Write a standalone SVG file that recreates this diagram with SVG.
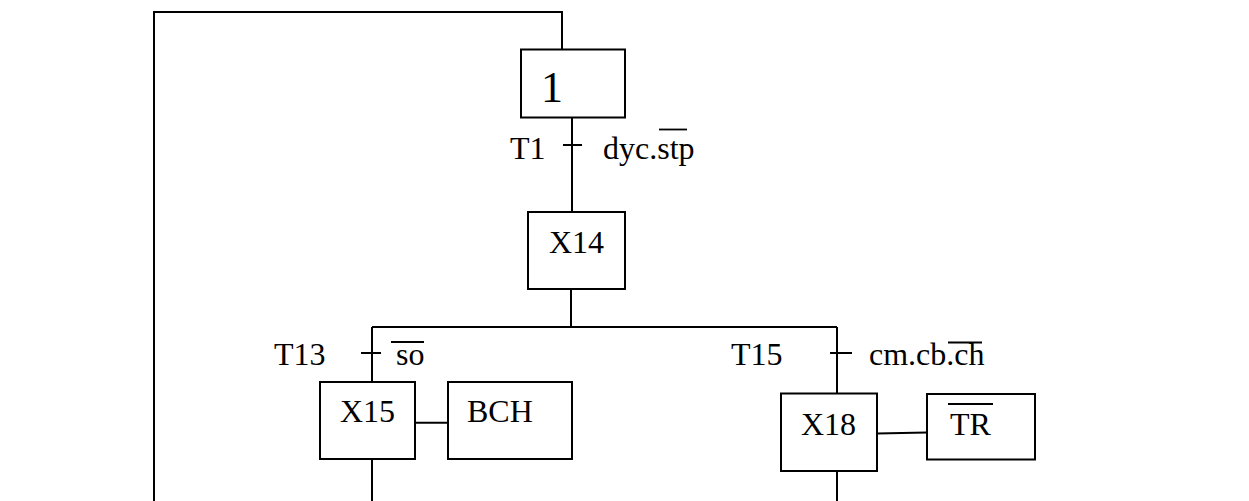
<svg xmlns="http://www.w3.org/2000/svg" width="1249" height="501" viewBox="0 0 1249 501">
<style>
.s{fill:#fff;stroke:#000;stroke-width:2}
.c{fill:none;stroke:#000;stroke-width:2}
.o{stroke:#000;stroke-width:1.8}
text{font-family:"Liberation Serif","Times New Roman",serif;font-size:32px;fill:#000}
</style>
<rect width="1249" height="501" fill="#fff"/>
<g id="connectors">
<path class="c" d="M154,501 V12 H562 V49.5"/>
<path class="c" d="M572,117.5 V212"/>
<path class="c" d="M563,145 H582"/>
<path class="c" d="M571,289 V327"/>
<path class="c" d="M372,327 H837"/>
<path class="c" d="M372,327 V382"/>
<path class="c" d="M361,353 H381"/>
<path class="c" d="M415,422.7 H448"/>
<path class="c" d="M372,459 V501"/>
<path class="c" d="M837,327 V393.5"/>
<path class="c" d="M830,353 H852"/>
<path class="c" d="M877,433.5 L927,432.5"/>
<path class="c" d="M837,471 V501"/>
</g>
<g id="step1">
<rect class="s" x="521" y="49.5" width="104" height="68"/>
<text x="541" y="102" style="font-size:44px">1</text>
</g>
<g id="T1">
<text x="510" y="159">T1</text>
<text x="603" y="159">dyc.stp</text>
<line class="o" x1="659" y1="129.5" x2="687" y2="129.5"/>
</g>
<g id="X14">
<rect class="s" x="528" y="212" width="97" height="77"/>
<text x="549" y="253">X14</text>
</g>
<g id="T13">
<text x="274" y="365">T13</text>
<text x="396" y="365">so</text>
<line class="o" x1="391" y1="342" x2="424" y2="342"/>
</g>
<g id="X15">
<rect class="s" x="320" y="382" width="95" height="77"/>
<text x="340" y="422">X15</text>
</g>
<g id="BCH">
<rect class="s" x="448" y="382" width="124" height="77"/>
<text x="467" y="422">BCH</text>
</g>
<g id="T15">
<text x="731" y="365">T15</text>
<text x="869" y="365">cm.cb.ch</text>
<line class="o" x1="948" y1="342.5" x2="982" y2="342.5"/>
</g>
<g id="X18">
<rect class="s" x="781" y="393.5" width="96" height="77.5"/>
<text x="801" y="435">X18</text>
</g>
<g id="TR">
<rect class="s" x="927" y="394" width="108" height="65.5"/>
<text x="950" y="435">TR</text>
<line class="o" x1="948" y1="404" x2="993" y2="404"/>
</g>
</svg>
